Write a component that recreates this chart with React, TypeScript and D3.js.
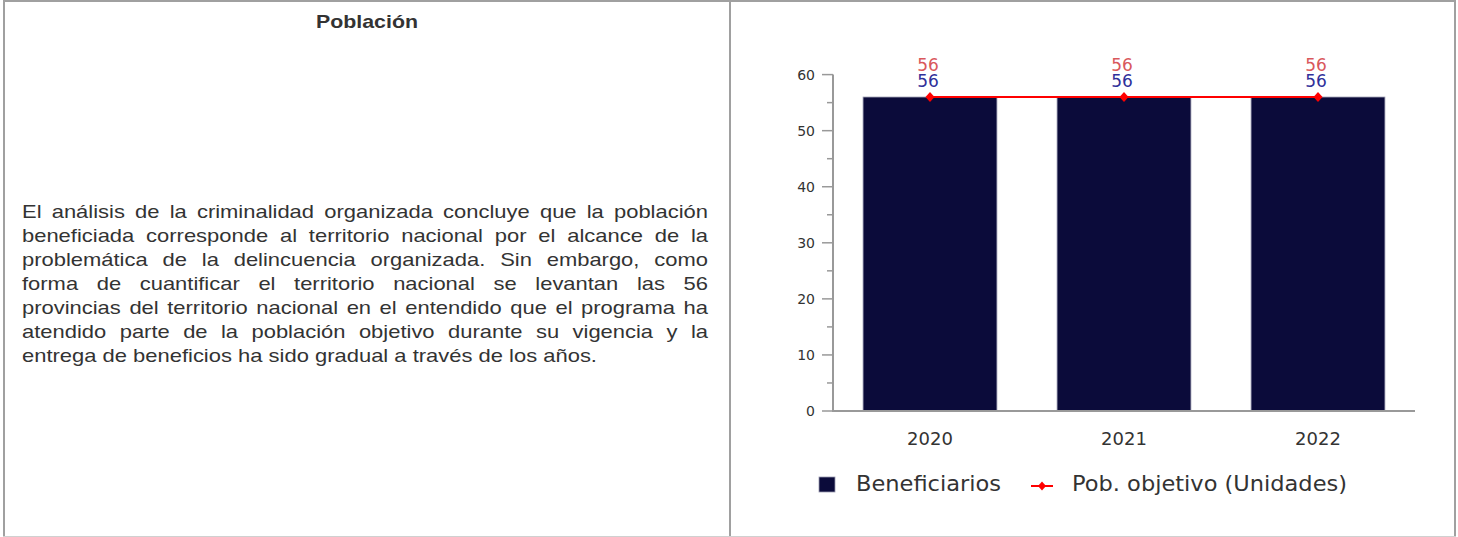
import React from 'react';
import * as d3 from 'd3';

const years = ['2020', '2021', '2022'];
const beneficiarios = [56, 56, 56];
const pobObjetivo = [56, 56, 56];
const yTickValues = [0, 10, 20, 30, 40, 50, 60];
const yMinorTicks = [5, 15, 25, 35, 45, 55];
const seriesNames = ['Beneficiarios', 'Pob. objetivo (Unidades)'];
const title = 'Población';
const bodyLines = [
  'El análisis de la criminalidad organizada concluye que la población',
  'beneficiada corresponde al territorio nacional por el alcance de la',
  'problemática de la delincuencia organizada. Sin embargo, como',
  'forma de cuantificar el territorio nacional se levantan las 56',
  'provincias del territorio nacional en el entendido que el programa ha',
  'atendido parte de la población objetivo durante su vigencia y la',
  'entrega de beneficios ha sido gradual a través de los años.',
];

const W = 1458;
const H = 537;
const TEXT_FONT = "'Liberation Sans', Arial, sans-serif";
const TEXT_SIZE = 18;
const SX = 1.22;

let ctx: CanvasRenderingContext2D | null = null;
function measure(s: string, font: string): number {
  if (!ctx) {
    const c = document.createElement('canvas');
    ctx = c.getContext('2d');
  }
  if (!ctx) return s.length * 8;
  ctx.font = font;
  return ctx.measureText(s).width;
}

function JustifiedLine({ text, x0, width, y, last }: { text: string; x0: number; width: number; y: number; last: boolean }) {
  const font = `${TEXT_SIZE}px ${TEXT_FONT}`;
  const words = text.split(' ');
  const ws = words.map((w) => measure(w, font) * SX);
  const space = measure(' ', font) * SX;
  const total = ws.reduce((a, b) => a + b, 0);
  const gap = last ? space : (width - total) / (words.length - 1);
  let cx = x0;
  const items = words.map((w, i) => {
    const px = cx;
    cx += ws[i] + gap;
    return (
      <text
        key={i}
        transform={`translate(${px},${y}) scale(${SX},1)`}
        fontFamily={TEXT_FONT}
        fontSize={TEXT_SIZE}
        fill="#333"
      >
        {w}
      </text>
    );
  });
  return <g>{items}</g>;
}

export default function App() {
  const x = d3.scaleBand<string>().domain(years).range([833, 1415]).paddingInner(0.31).paddingOuter(0.155);
  const y = d3.scaleLinear().domain([0, 60]).range([411, 74.6]);
  const line = d3
    .line<number>()
    .x((_, i) => (x(years[i]) as number) + x.bandwidth() / 2)
    .y((d) => y(d));

  const chartFont = "'DejaVu Sans', sans-serif";
  const lineStep = 24;
  const firstBaseline = 218;

  return (
    <svg width={W} height={H} style={{ position: 'absolute', left: 0, top: 0, background: '#fff' }}>
      {/* table borders */}
      <rect x={0} y={0} width={W} height={H} fill="#fff" />
      <line x1={3} x2={1456} y1={1} y2={1} stroke="#a0a0a0" strokeWidth={2} />
      <line x1={4} x2={4} y1={0} y2={537} stroke="#a0a0a0" strokeWidth={2} />
      <line x1={730} x2={730} y1={0} y2={537} stroke="#a0a0a0" strokeWidth={2} />
      <line x1={1455} x2={1455} y1={0} y2={537} stroke="#a0a0a0" strokeWidth={2} />
      <line x1={3} x2={1456} y1={536.5} y2={536.5} stroke="#d0d0d0" strokeWidth={1} />

      {/* left panel */}
      <text
        transform={`translate(367,28) scale(${SX},1)`}
        textAnchor="middle"
        fontFamily={TEXT_FONT}
        fontWeight="bold"
        fontSize={17.5}
        fill="#333"
      >
        {title}
      </text>
      {bodyLines.map((t, i) => (
        <JustifiedLine
          key={i}
          text={t}
          x0={22}
          width={686}
          y={firstBaseline + i * lineStep}
          last={i === bodyLines.length - 1}
        />
      ))}

      {/* chart */}
      <g>
        {beneficiarios.map((v, i) => (
          <rect
            key={years[i]}
            x={x(years[i])}
            y={y(v)}
            width={x.bandwidth()}
            height={y(0) - y(v)}
            fill="#0b0b3a"
            stroke="#9a9ab0"
            strokeWidth={0.8}
          />
        ))}
        {/* y axis */}
        <line x1={833} x2={833} y1={y(60)} y2={y(0)} stroke="#999" strokeWidth={2} />
        {yTickValues.map((t) => (
          <g key={t}>
            <line x1={822} x2={833} y1={y(t)} y2={y(t)} stroke="#999" strokeWidth={1.5} />
            <text x={815} y={y(t) + 5} textAnchor="end" fontFamily={chartFont} fontSize={14} fill="#333">
              {t}
            </text>
          </g>
        ))}
        {yMinorTicks.map((t) => (
          <line key={t} x1={827} x2={833} y1={y(t)} y2={y(t)} stroke="#999" strokeWidth={1.5} />
        ))}
        {/* x axis */}
        <line x1={832} x2={1415} y1={y(0)} y2={y(0)} stroke="#999" strokeWidth={2} />
        {years.map((yr) => (
          <text
            key={yr}
            x={(x(yr) as number) + x.bandwidth() / 2}
            y={445}
            textAnchor="middle"
            fontFamily={chartFont}
            fontSize={18}
            fill="#333"
          >
            {yr}
          </text>
        ))}
        {/* line series */}
        <path d={line(pobObjetivo) || ''} fill="none" stroke="#ff0000" strokeWidth={2} />
        {pobObjetivo.map((v, i) => {
          const cx = (x(years[i]) as number) + x.bandwidth() / 2;
          const cy = y(v);
          return (
            <path key={i} d={`M${cx},${cy - 5}L${cx + 4.5},${cy}L${cx},${cy + 5}L${cx - 4.5},${cy}Z`} fill="#ff0000" />
          );
        })}
        {/* data labels */}
        {years.map((yr, i) => {
          const cx = (x(yr) as number) + x.bandwidth() / 2;
          return (
            <g key={yr}>
              <text x={cx - 2} y={71} textAnchor="middle" fontFamily={chartFont} fontSize={17} fill="#d9585c">
                {pobObjetivo[i]}
              </text>
              <text x={cx - 2} y={86.5} textAnchor="middle" fontFamily={chartFont} fontSize={17} fill="#30309a">
                {beneficiarios[i]}
              </text>
            </g>
          );
        })}
        {/* legend */}
        <rect x={819} y={477} width={16} height={15} fill="#0b0b3a" stroke="#9a9ab0" strokeWidth={0.8} />
        <text x={856} y={491} fontFamily={chartFont} fontSize={22} fill="#333" textLength={145} lengthAdjust="spacingAndGlyphs">
          {seriesNames[0]}
        </text>
        <line x1={1031} x2={1053} y1={486} y2={486} stroke="#ff0000" strokeWidth={2} />
        <path d="M1042,481.5L1046,486L1042,490.5L1038,486Z" fill="#ff0000" />
        <text x={1072} y={491} fontFamily={chartFont} fontSize={22} fill="#333" textLength={275} lengthAdjust="spacingAndGlyphs">
          {seriesNames[1]}
        </text>
      </g>
    </svg>
  );
}
